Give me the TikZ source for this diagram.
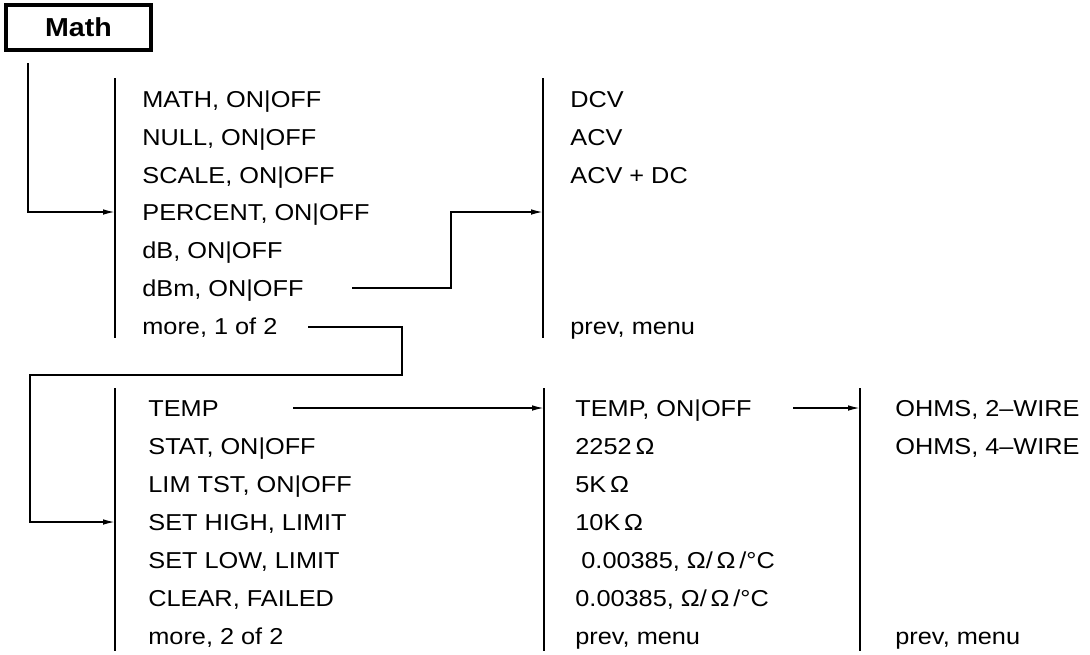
\documentclass[tikz,border=0pt]{standalone}
\usepackage{fontspec}
\setmainfont[FakeStretch=1.1]{Liberation Sans}
\usetikzlibrary{arrows.meta,positioning}
\tikzset{
  mitem/.style={anchor=base west, inner sep=0pt, font=\fontsize{11.5}{12}\selectfont},
  mbar/.style={line width=0.65pt},
  lnk/.style={line width=0.75pt},
  lnkarr/.style={lnk, -{Latex[length=6pt,width=2.8pt]}},
  keybox/.style={draw, line width=1.8pt, minimum width=72.5pt, minimum height=22.5pt,
                 inner sep=0pt, font=\fontsize{13}{14}\selectfont\bfseries},
}

\begin{document}
\begin{tikzpicture}[x=0.5pt, y=-0.5pt]
        \useasboundingbox (0,0) rectangle (1090,654);
        \node[keybox] (mathkey) at (78.5,27.5) {Math};
        % menu bars
        \coordinate (b1t) at (115,78);  \coordinate (b1b) at (115,338);
        \coordinate (b2t) at (543,78);  \coordinate (b2b) at (543,338);
        \coordinate (b3t) at (115,388); \coordinate (b3b) at (115,651);
        \coordinate (b4t) at (544,388); \coordinate (b4b) at (544,651);
        \coordinate (b5t) at (860,388); \coordinate (b5b) at (860,651);
        \foreach \b in {1,...,5}{\draw[mbar] (b\b t) -- (b\b b);}
        % menu 1 of 2
        \node[mitem] (math) at (142,107) {MATH, ON|OFF};
        \node[mitem] (null) at (142,145) {NULL, ON|OFF};
        \node[mitem] (scale) at (142,183) {SCALE, ON|OFF};
        \node[mitem] (pct) at (142,220) {PERCENT, ON|OFF};
        \node[mitem] (db) at (142,258) {dB, ON|OFF};
        \node[mitem] (dbm) at (142,296) {dBm, ON|OFF};
        \node[mitem] (more1) at (142,334) {more, 1 of 2};
        \node[mitem] (dcv) at (570,107) {DCV};
        \node[mitem] (acv) at (570,145) {ACV};
        \node[mitem] (acvdc) at (570,183) {ACV + DC};
        \node[mitem] (prev1) at (570,334) {prev, menu};
        % menu 2 of 2
        \node[mitem] (temp) at (148,416) {TEMP};
        \node[mitem] (stat) at (148,454) {STAT, ON|OFF};
        \node[mitem] (lim) at (148,492) {LIM TST, ON|OFF};
        \node[mitem] (sethi) at (148,530) {SET HIGH, LIMIT};
        \node[mitem] (setlo) at (148,568) {SET LOW, LIMIT};
        \node[mitem] (clr) at (148,606) {CLEAR, FAILED};
        \node[mitem] (more2) at (148,644) {more, 2 of 2};
        \node[mitem] (tempon) at (575,416) {TEMP, ON|OFF};
        \node[mitem] (rtd) at (575,454) {2252\,Ω};
        \node[mitem] (rfive) at (575,492) {5K\,Ω};
        \node[mitem] (rten) at (575,530) {10K\,Ω};
        \node[mitem] (alpha) at (581,568) {0.00385, Ω/\,Ω\,/°C};
        \node[mitem] (alphab) at (575,606) {0.00385, Ω/\,Ω\,/°C};
        \node[mitem] (prev2) at (575,644) {prev, menu};
        \node[mitem] (twow) at (895,416) {OHMS, 2--WIRE};
        \node[mitem] (fourw) at (895,454) {OHMS, 4--WIRE};
        \node[mitem] (prev3) at (895,644) {prev, menu};
        % links
        \coordinate (keyout) at (28,63);
        \coordinate (in1) at (b1t |- 0,212);
        \draw[lnkarr] (keyout) |- (in1);
        \coordinate (dbmout) at (352,288);
        \coordinate (jog1) at (451,288);
        \coordinate (in2) at (b2t |- 0,212);
        \draw[lnkarr] (dbmout) -- (jog1) |- (in2);
        \coordinate (moreout) at (308,327);
        \coordinate (jog2) at (402,375);
        \coordinate (jog3) at (30,375);
        \coordinate (in3) at (b3t |- 0,522);
        \draw[lnkarr] (moreout) -| (jog2) -- (jog3) |- (in3);
        \coordinate (tempout) at (293,408);
        \coordinate (in4) at (b4t |- 0,408);
        \draw[lnkarr] (tempout) -- (in4);
        \coordinate (temponout) at (793,408);
        \coordinate (in5) at (b5t |- 0,408);
        \draw[lnkarr] (temponout) -- (in5);
      \end{tikzpicture}
\end{document}
